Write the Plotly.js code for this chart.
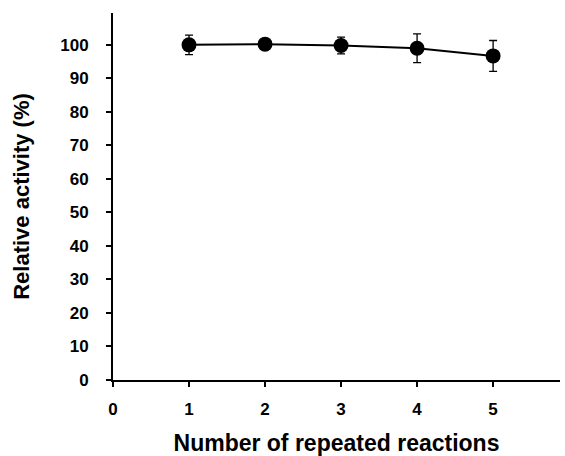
<!DOCTYPE html>
<html><head><meta charset="utf-8">
<script src="https://cdn.plot.ly/plotly-3.0.1.min.js"></script>
<style>body{margin:0;background:#fff}#chart{width:565px;height:456px}</style>
</head><body><div id="chart"></div>
<script>
var cycles = [1, 2, 3, 4, 5];
var activity = [100.0, 100.2, 99.8, 99.0, 96.7];
var errors = [2.9, 1.0, 2.5, 4.3, 4.6];
var xTicks = [0, 1, 2, 3, 4, 5];
var yTicks = [0, 10, 20, 30, 40, 50, 60, 70, 80, 90, 100];

var font = {family: 'Liberation Sans, Arial, sans-serif', color: '#000'};
Plotly.newPlot('chart', [{
  x: cycles, y: activity, type: 'scatter', mode: 'lines+markers',
  line: {color: '#000', width: 2},
  marker: {color: '#000', size: 15},
  error_y: {type: 'data', array: errors, visible: true, color: '#000', thickness: 1.3, width: 4}
}], {
  width: 565, height: 456,
  margin: {l: 113, r: 5, t: 13, b: 76},
  paper_bgcolor: '#fff', plot_bgcolor: '#fff',
  showlegend: false,
  font: font,
  xaxis: {
    range: [0, 5.88], tickvals: xTicks, ticktext: xTicks.map(String),
    showgrid: false, zeroline: false, showline: true, linecolor: '#000', linewidth: 2,
    ticks: 'outside', ticklen: 5, tickwidth: 2, tickcolor: '#000', ticklabelstandoff: 8,
    tickfont: {family: font.family, size: 17, color: '#000', weight: 'bold'},
    title: {text: '<b>Number of repeated reactions</b>', font: {family: font.family, size: 23, color: '#000'}, standoff: 21}
  },
  yaxis: {
    range: [0, 109.5], tickvals: yTicks, ticktext: yTicks.map(String),
    showgrid: false, zeroline: false, showline: true, linecolor: '#000', linewidth: 2,
    ticks: 'outside', ticklen: 5, tickwidth: 2, tickcolor: '#000', ticklabelstandoff: 14,
    tickfont: {family: font.family, size: 17, color: '#000', weight: 'bold'},
    title: {text: '<b>Relative activity (%)</b>', font: {family: font.family, size: 22, color: '#000'}, standoff: 25}
  }
}, {displayModeBar: false, staticPlot: true});
</script></body></html>
